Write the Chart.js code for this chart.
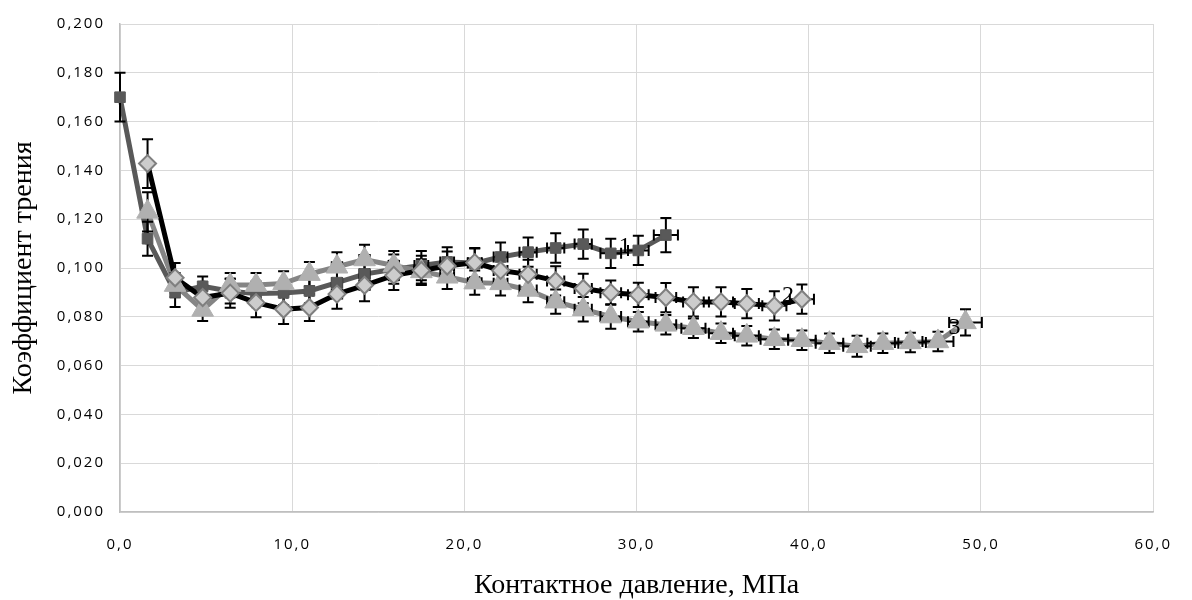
<!DOCTYPE html>
<html>
<head>
<meta charset="utf-8">
<script src="https://cdn.jsdelivr.net/npm/chart.js@4.4.1/dist/chart.umd.min.js"></script>
<style>
  html, body { margin: 0; padding: 0; background: #fff; }
  #wrap { width: 1192px; height: 600px; }
</style>
</head>
<body>
<div id="wrap"><canvas id="frictionChart" width="1192" height="600"></canvas></div>
<script>
// contact pressure, MPa (shared measurement steps)
const pressure = [0, 1.6, 3.2, 4.8, 6.4, 7.9, 9.5, 11.0, 12.6, 14.2, 15.9, 17.5, 19.0, 20.6, 22.1, 23.7,
    25.3, 26.9, 28.5, 30.1, 31.7, 33.3, 34.9, 36.4, 38.0, 39.6, 41.2, 42.8, 44.3, 45.9, 47.5, 49.1];

// series 1 (squares)
const frictionOne = [0.170, 0.112, 0.090, 0.0925, 0.0905, 0.0895, 0.0898, 0.0906, 0.094, 0.0975, 0.0995,
    0.101, 0.1025, 0.102, 0.1045, 0.1065, 0.1082, 0.1098, 0.106, 0.1072, 0.1135];
const errYOne = [0.010, 0.007, 0.006, 0.004, 0.005, 0.005, 0.005, 0.005, 0.005, 0.006, 0.006, 0.006, 0.006,
    0.006, 0.006, 0.006, 0.006, 0.006, 0.006, 0.006, 0.007];
const errXOne = [0, 0.1, 0.1, 0.1, 0.1, 0.2, 0.2, 0.2, 0.3, 0.3, 0.3, 0.4, 0.4, 0.4, 0.4, 0.5, 0.5, 0.5,
    0.6, 0.6, 0.7];

// series 2 (diamonds)
const frictionTwo = [0.1428, 0.096, 0.0879, 0.0897, 0.0858, 0.0831, 0.0838, 0.0893, 0.0929, 0.097, 0.099,
    0.1008, 0.1022, 0.099, 0.0974, 0.0947, 0.0916, 0.0899, 0.089, 0.0879, 0.0861, 0.0861, 0.0854, 0.0845, 0.0872];
const errYTwo = [0.010, 0.006, 0.005, 0.006, 0.006, 0.006, 0.0055, 0.006, 0.0065, 0.006, 0.006, 0.006, 0.006,
    0.006, 0.006, 0.006, 0.006, 0.005, 0.005, 0.006, 0.006, 0.006, 0.006, 0.006, 0.006];
const errXTwo = [0.1, 0.1, 0.1, 0.2, 0.2, 0.2, 0.2, 0.3, 0.3, 0.3, 0.4, 0.4, 0.4, 0.4, 0.5, 0.5, 0.5, 0.6,
    0.6, 0.6, 0.6, 0.7, 0.7, 0.7, 0.7];

// series 3 (triangles)
const frictionThree = [0.123, 0.093, 0.0828, 0.093, 0.093, 0.0937, 0.0975, 0.1005, 0.1035, 0.101, 0.0986,
    0.0964, 0.094, 0.0937, 0.091, 0.0862, 0.0831, 0.0801, 0.078, 0.0767, 0.0753, 0.0733, 0.0722, 0.0708,
    0.0704, 0.0692, 0.0679, 0.0692, 0.0695, 0.0699, 0.0777];
const errYThree = [0.008, 0.005, 0.0045, 0.005, 0.005, 0.005, 0.005, 0.006, 0.006, 0.006, 0.005, 0.005,
    0.005, 0.005, 0.005, 0.005, 0.005, 0.005, 0.004, 0.004, 0.004, 0.004, 0.004, 0.004, 0.004, 0.004, 0.0043,
    0.004, 0.004, 0.004, 0.0054];
const errXThree = [0.1, 0.1, 0.1, 0.2, 0.2, 0.2, 0.2, 0.3, 0.3, 0.3, 0.4, 0.4, 0.4, 0.4, 0.5, 0.5, 0.5, 0.6,
    0.6, 0.6, 0.7, 0.7, 0.7, 0.8, 0.8, 0.8, 0.8, 0.9, 0.9, 0.9, 0.95];

const curveLabels = ['1', '2', '3'];

const series = [
    { x: pressure.slice(0, 21), y: frictionOne, ex: errXOne, ey: errYOne },
    { x: pressure.slice(1, 26), y: frictionTwo, ex: errXTwo, ey: errYTwo },
    { x: pressure.slice(1, 32), y: frictionThree, ex: errXThree, ey: errYThree }
];
const toPoints = s => s.x.map((x, i) => ({ x, y: s.y[i] }));

// label offsets from last point of each curve, px
const labelShift = [[-41, 12], [-14, -4], [-11, 5]];

const drawErrorBars = chart => {
    const { ctx, scales: { x, y } } = chart;
    ctx.save();
    ctx.strokeStyle = '#000';
    ctx.lineWidth = 2;
    const cap = 5.5;
    series.forEach(s => {
        s.y.forEach((v, i) => {
            const px = x.getPixelForValue(s.x[i]);
            const py = y.getPixelForValue(v);
            const top = y.getPixelForValue(v + s.ey[i]);
            const bot = y.getPixelForValue(v - s.ey[i]);
            ctx.beginPath();
            ctx.moveTo(px, top); ctx.lineTo(px, bot);
            ctx.moveTo(px - cap, top); ctx.lineTo(px + cap, top);
            ctx.moveTo(px - cap, bot); ctx.lineTo(px + cap, bot);
            if (s.ex[i] > 0) {
                const l = x.getPixelForValue(s.x[i] - s.ex[i]);
                const r = x.getPixelForValue(s.x[i] + s.ex[i]);
                ctx.moveTo(l, py); ctx.lineTo(r, py);
                ctx.moveTo(l, py - cap); ctx.lineTo(l, py + cap);
                ctx.moveTo(r, py - cap); ctx.lineTo(r, py + cap);
            }
            ctx.stroke();
        });
    });
    ctx.restore();
};

const extras = {
    id: 'extras',
    beforeDraw(chart) {
        // wider tick text
        Object.values(chart.scales).forEach(scale => {
            if (scale._spaced) return;
            const draw = scale.drawLabels.bind(scale);
            scale.drawLabels = area => {
                chart.ctx.letterSpacing = '2px';
                draw(area);
                chart.ctx.letterSpacing = '0px';
            };
            scale._spaced = true;
        });
    },
    afterDatasetDraw(chart, args) {
        if (chart.data.datasets[args.index].lastLine) drawErrorBars(chart);
    },
    afterDatasetsDraw(chart) {
        const { ctx, scales: { x, y } } = chart;
        ctx.save();
        ctx.font = '24px "Liberation Serif", "Times New Roman", serif';
        ctx.fillStyle = '#000';
        ctx.textAlign = 'center';
        ctx.textBaseline = 'middle';
        series.forEach((s, k) => {
            const n = s.x.length - 1;
            ctx.fillText(curveLabels[k],
                x.getPixelForValue(s.x[n]) + labelShift[k][0],
                y.getPixelForValue(s.y[n]) + labelShift[k][1]);
        });
        ctx.restore();
    }
};

const lineSet = (s, color, order, last) => ({
    data: toPoints(s),
    showLine: true,
    borderColor: color,
    borderWidth: 5,
    pointRadius: 0,
    pointHoverRadius: 0,
    clip: false,
    order: order,
    lastLine: last
});
const markSet = (s, style, radius, fill, edge, edgeWidth, order) => ({
    data: toPoints(s),
    showLine: false,
    pointStyle: style,
    pointRadius: radius,
    pointHoverRadius: radius,
    backgroundColor: fill,
    borderColor: edge,
    pointBorderWidth: edgeWidth,
    clip: false,
    order: order
});

const tickFont = { family: '"Open Sans", sans-serif', size: 15 };
const titleFont = { family: '"Liberation Serif", "Times New Roman", serif', size: 28, lineHeight: 1 };

new Chart(document.getElementById('frictionChart'), {
    type: 'scatter',
    data: {
        datasets: [
            lineSet(series[0], '#595959', 12, false),
            lineSet(series[2], '#858585', 11, false),
            lineSet(series[1], '#000000', 10, true),
            markSet(series[0], 'rect', 7.5, '#595959', '#595959', 1, 2),
            markSet(series[2], 'triangle', 12.5, '#b0b0b0', '#b0b0b0', 1, 1),
            markSet(series[1], 'rectRot', 8.5, '#cccccc', '#7f7f7f', 2, 0)
        ]
    },
    options: {
        responsive: false,
        animation: false,
        devicePixelRatio: 1,
        layout: { padding: { left: 0, right: 25, top: 22, bottom: 0 } },
        plugins: { legend: { display: false }, tooltip: { enabled: false } },
        scales: {
            x: {
                type: 'linear',
                min: 0,
                max: 60,
                ticks: {
                    stepSize: 10,
                    padding: 24,
                    maxRotation: 0,
                    color: '#000',
                    font: tickFont,
                    callback: v => v.toFixed(1).replace('.', ',')
                },
                grid: { color: '#d9d9d9', drawTicks: false },
                border: { color: '#bfbfbf', width: 1.5 },
                title: {
                    display: true,
                    text: 'Контактное давление, МПа',
                    color: '#000',
                    font: titleFont,
                    padding: { top: 0, bottom: 0 }
                },
                afterFit: s => { s.height = 88; }
            },
            y: {
                min: 0,
                max: 0.2,
                ticks: {
                    stepSize: 0.02,
                    padding: 15,
                    color: '#000',
                    font: tickFont,
                    callback: v => v.toFixed(3).replace('.', ',')
                },
                grid: { color: '#d9d9d9', drawTicks: false },
                border: { color: '#bfbfbf', width: 1.5 },
                title: {
                    display: true,
                    text: 'Коэффициент трения',
                    color: '#000',
                    font: titleFont,
                    padding: { top: 10, bottom: 0 }
                },
                afterFit: s => { s.width = 120; }
            }
        }
    },
    plugins: [extras]
});
</script>
</body>
</html>
